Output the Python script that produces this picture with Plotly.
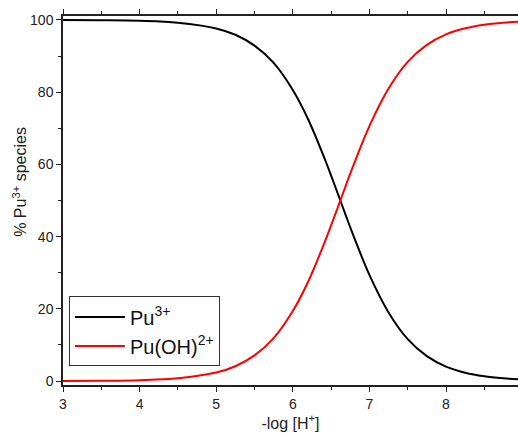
import plotly.graph_objects as go

# -log[H+] values
ph = [3.0, 3.5, 4.0, 4.5, 5.0, 5.25, 5.5, 5.75, 6.0, 6.2, 6.4, 6.5, 6.6,
      6.7, 6.8, 7.0, 7.25, 7.5, 7.75, 8.0, 8.25, 8.5, 8.75, 8.94]
# % Pu3+
pu3 = [99.98, 99.92, 99.76, 99.25, 97.66, 95.9, 92.9, 88.1, 80.6, 72.5, 62.4,
       56.9, 51.2, 45.4, 39.8, 29.4, 19.0, 11.6, 6.9, 4.0, 2.3, 1.3, 0.74, 0.48]
# % Pu(OH)2+
puoh = [0.02, 0.08, 0.24, 0.75, 2.34, 4.1, 7.1, 11.9, 19.4, 27.5, 37.6,
        43.1, 48.8, 54.6, 60.2, 70.6, 81.0, 88.4, 93.1, 96.0, 97.7, 98.7, 99.26, 99.52]

series_names = ["Pu<sup>3+</sup>", "Pu(OH)<sup>2+</sup>"]
colors = ["#000000", "#ff0000"]

fig = go.Figure()
for name, ys, c in zip(series_names, [pu3, puoh], colors):
    fig.add_trace(go.Scatter(x=ph, y=ys, mode="lines", name=name,
                             line=dict(color=c, width=2, shape="spline", smoothing=1.0)))

axis_common = dict(
    showline=True, linecolor="#222", linewidth=1.5,
    ticks="outside", ticklen=5, tickwidth=1.3, tickcolor="#222",
    showgrid=False, zeroline=False,
    tickfont=dict(family="Liberation Sans, Arial", size=14, color="#222"),
)

fig.update_layout(
    width=518, height=433,
    margin=dict(l=63, r=0, t=16, b=48),
    paper_bgcolor="white", plot_bgcolor="white",
    font=dict(family="Liberation Sans, Arial", color="#222"),
    xaxis=dict(range=[3, 8.94], dtick=1, tick0=3, mirror="ticks",
               minor=dict(ticks="outside", ticklen=3, dtick=0.5, tickcolor="#222", tickwidth=1.3),
               title=dict(text="-log [H<sup>+</sup>]", font=dict(size=16), standoff=7),
               **axis_common),
    yaxis=dict(range=[-1.1, 101.1], dtick=20, tick0=0,
               minor=dict(ticks="outside", ticklen=3, dtick=10, tickcolor="#222", tickwidth=1.3),
               **axis_common),
    legend=dict(x=0.013, y=0.24, xanchor="left", yanchor="top",
                bordercolor="#333", borderwidth=1, bgcolor="white",
                font=dict(family="Liberation Sans, Arial", size=20, color="#111"),
                tracegroupgap=0, itemwidth=50),
    showlegend=True,
    annotations=[dict(text="% Pu<sup>3+</sup> species", textangle=-90,
                      xref="paper", yref="paper", x=-0.095, y=0.55,
                      xanchor="center", yanchor="middle", showarrow=False,
                      font=dict(family="Liberation Sans, Arial", size=16, color="#222"))],
)

fig.write_html("out.html")
